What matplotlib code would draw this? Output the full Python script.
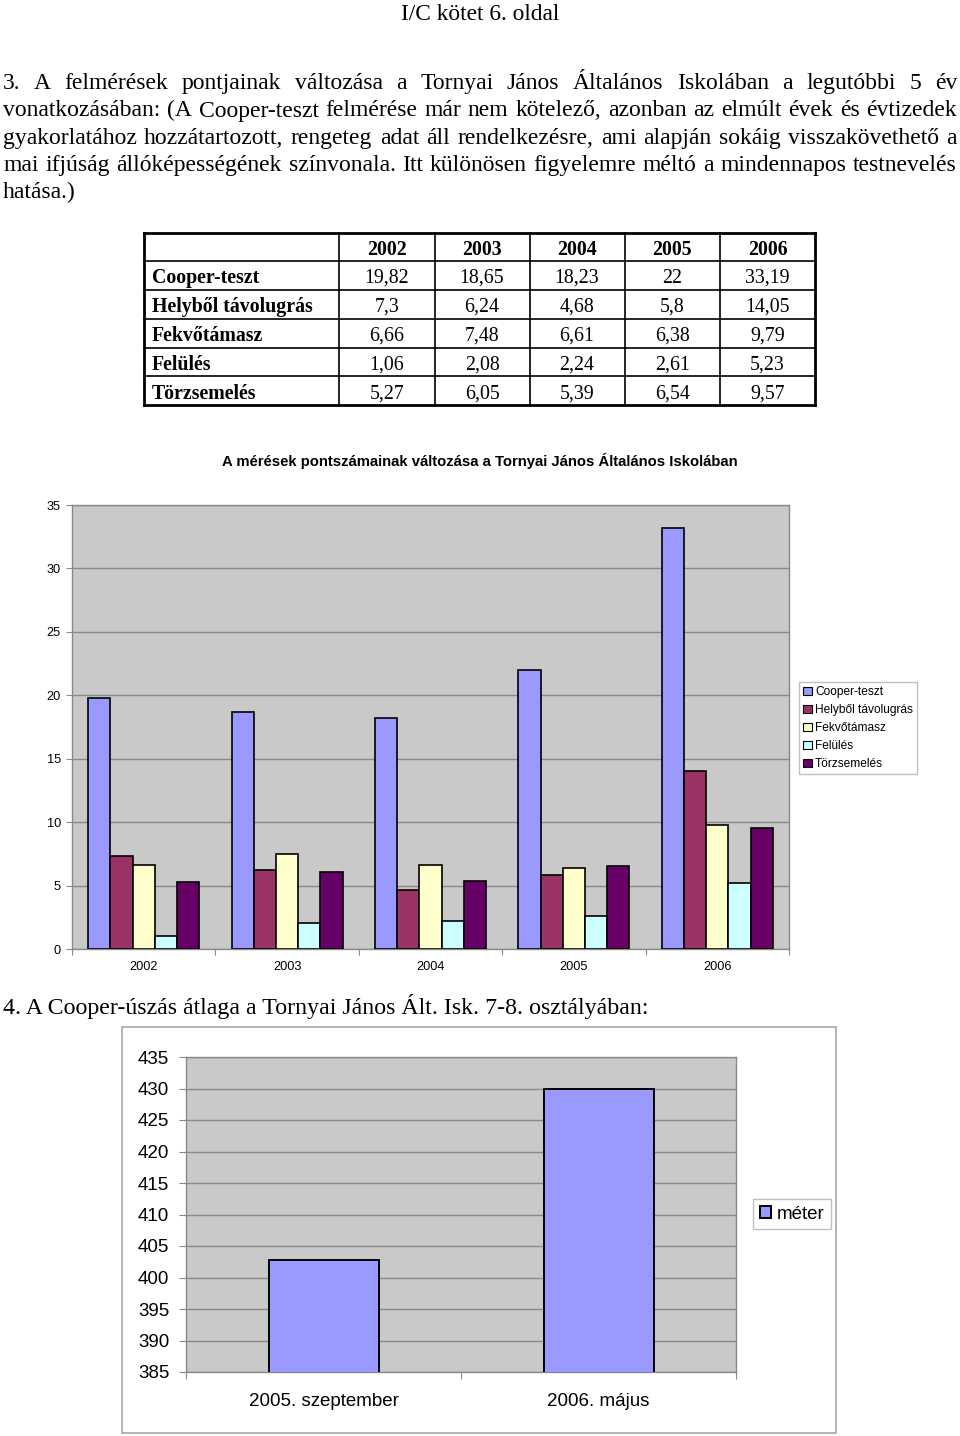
import matplotlib
matplotlib.use("Agg")
import matplotlib.pyplot as plt
from matplotlib.font_manager import FontProperties
from matplotlib.patches import Rectangle
from matplotlib.lines import Line2D
import numpy as np

# ---------------- data ----------------
years = ["2002", "2003", "2004", "2005", "2006"]
series_names = ["Cooper-teszt", "Helyből távolugrás", "Fekvőtámasz", "Felülés", "Törzsemelés"]
cooper = [19.82, 18.65, 18.23, 22, 33.19]
tavolugras = [7.3, 6.24, 4.68, 5.8, 14.05]
fekvotamasz = [6.66, 7.48, 6.61, 6.38, 9.79]
felules = [1.06, 2.08, 2.24, 2.61, 5.23]
torzsemeles = [5.27, 6.05, 5.39, 6.54, 9.57]
series_colors = ["#9999FF", "#993366", "#FFFFCC", "#CCFFFF", "#660066"]

swim_labels = ["2005. szeptember", "2006. május"]
swim_values = [402.7, 430]
swim_legend = "méter"

chart1_title = "A mérések pontszámainak változása a Tornyai János Általános Iskolában"
header = "I/C kötet 6. oldal"
para_lines = [
    "3. A felmérések pontjainak változása a Tornyai János Általános Iskolában a legutóbbi 5 év",
    "vonatkozásában: (A Cooper-teszt felmérése már nem kötelező, azonban az elmúlt évek és évtizedek",
    "gyakorlatához hozzátartozott, rengeteg adat áll rendelkezésre, ami alapján sokáig visszakövethető a",
    "mai ifjúság állóképességének színvonala. Itt különösen figyelemre méltó a mindennapos testnevelés",
    "hatása.)",
]
heading4 = "4. A Cooper-úszás átlaga a Tornyai János Ált. Isk. 7-8. osztályában:"

def fmt(v):
    return ("%g" % v).replace(".", ",")

W, H = 960, 1436
fig = plt.figure(figsize=(W / 100, H / 100), dpi=100)
fig.patch.set_facecolor("white")

def fx(px):
    return px / W

def fy(py):
    return 1 - py / H

SERIF = "Liberation Serif"
SANS = "Liberation Sans"

# ---------------- header & paragraph ----------------
fig.text(fx(480), fy(20), header, family=SERIF, fontsize=16.8, ha="center", va="baseline")

renderer = fig.canvas.get_renderer()
body_size = 17.0
prop = FontProperties(family=SERIF, size=body_size)
baselines = [89, 116.5, 143.8, 171, 198.3]
x_left, x_right = 3, 957
for i, line in enumerate(para_lines):
    words = line.split(" ")
    if i == len(para_lines) - 1:
        fig.text(fx(x_left), fy(baselines[i]), line, family=SERIF, fontsize=body_size,
                 ha="left", va="baseline")
        continue
    widths = [renderer.get_text_width_height_descent(w, prop, ismath=False)[0] for w in words]
    gap = (x_right - x_left - sum(widths)) / (len(words) - 1)
    x = x_left
    for w, wd in zip(words, widths):
        fig.text(fx(x), fy(baselines[i]), w, family=SERIF, fontsize=body_size,
                 ha="left", va="baseline")
        x += wd + gap

# ---------------- table ----------------
col_x = [144, 339, 434.5, 529.5, 624.5, 720, 815]
row_y = [232.5, 261, 290, 318.8, 347.5, 376.2, 405]
for xx in col_x:
    lw = 2.0 if xx in (col_x[0], col_x[-1]) else 1.2
    fig.add_artist(Line2D([fx(xx), fx(xx)], [fy(row_y[0]), fy(row_y[-1])], color="black",
                          lw=lw, transform=fig.transFigure))
for yy in row_y:
    lw = 2.0 if yy in (row_y[0], row_y[-1]) else 1.2
    fig.add_artist(Line2D([fx(col_x[0]), fx(col_x[-1])], [fy(yy), fy(yy)], color="black",
                          lw=lw, transform=fig.transFigure))
tsize = 14.3
dy = 3
for j, yr in enumerate(years):
    cx = (col_x[j + 1] + col_x[j + 2]) / 2
    cy = (row_y[0] + row_y[1]) / 2 + dy
    fig.text(fx(cx), fy(cy), yr, family=SERIF, fontsize=tsize, weight="bold",
             ha="center", va="center")
table_data = [cooper, tavolugras, fekvotamasz, felules, torzsemeles]
for i, name in enumerate(series_names):
    cy = (row_y[i + 1] + row_y[i + 2]) / 2 + dy
    fig.text(fx(col_x[0] + 8), fy(cy), name, family=SERIF, fontsize=tsize, weight="bold",
             ha="left", va="center")
    for j, v in enumerate(table_data[i]):
        cx = (col_x[j + 1] + col_x[j + 2]) / 2
        fig.text(fx(cx), fy(cy), fmt(v), family=SERIF, fontsize=tsize,
                 ha="center", va="center")

# ---------------- chart 1 ----------------
fig.text(fx(480), fy(461), chart1_title, family=SANS, fontsize=10.7, weight="bold",
         ha="center", va="center")

PLOT_BG = "#C9C9C9"
GRID = "#8a8a8a"

ax1 = fig.add_axes([fx(72), fy(949), fx(789 - 72), (949 - 505) / H])
ax1.set_facecolor(PLOT_BG)
n = len(years)
x = np.arange(n)
bw = 0.155
for k, (vals, col, name) in enumerate(zip(table_data, series_colors, series_names)):
    ax1.bar(x + (k - 2) * bw, vals, width=bw, color=col, edgecolor="black", linewidth=1.2,
            label=name, zorder=3)
ax1.set_xlim(-0.5, n - 0.5)
ax1.set_ylim(0, 35)
ax1.set_yticks(np.arange(0, 36, 5))
ax1.yaxis.grid(True, color=GRID, linewidth=1.0, zorder=0)
ax1.set_axisbelow(True)
ax1.set_xticks(np.arange(-0.5, n, 1.0))
ax1.set_xticklabels([])
ax1.set_xticks(x, minor=True)
ax1.set_xticklabels(years, minor=True, family=SANS, fontsize=9.2)
ax1.tick_params(axis="x", which="minor", length=0, pad=9)
ax1.tick_params(axis="x", which="major", length=4, color=GRID, direction="out")
ax1.tick_params(axis="y", length=4, color=GRID, labelsize=9.2, pad=4)
for lbl in ax1.get_yticklabels():
    lbl.set_family(SANS)
for s in ax1.spines.values():
    s.set_color(GRID)
    s.set_linewidth(1.0)
leg1 = ax1.legend(loc="upper left", bbox_to_anchor=(fx(799), fy(682)), bbox_transform=fig.transFigure,
                  prop=FontProperties(family=SANS, size=8.6), frameon=True, fancybox=False,
                  handlelength=0.75, handleheight=0.75, handletextpad=0.25, borderpad=0.35,
                  labelspacing=0.5, borderaxespad=0)
leg1.get_frame().set_edgecolor("#b0b0b0")
leg1.get_frame().set_linewidth(1.0)
for h in leg1.legend_handles:
    h.set_linewidth(0.8)

# ---------------- heading 4 ----------------
fig.text(fx(3), fy(1014), heading4, family=SERIF, fontsize=17.2, ha="left", va="baseline")

# ---------------- chart 2 ----------------
fig.add_artist(Rectangle((fx(122), fy(1433)), fx(836 - 122), (1433 - 1027) / H,
                         transform=fig.transFigure, facecolor="white", edgecolor="#a8a8a8",
                         linewidth=1.2, zorder=0))
ax2 = fig.add_axes([fx(186), fy(1372), fx(736 - 186), (1372 - 1057) / H])
ax2.set_facecolor(PLOT_BG)
x2 = np.arange(len(swim_values))
ax2.bar(x2, swim_values, width=0.4, color="#9999FF", edgecolor="black", linewidth=1.4,
        label=swim_legend, zorder=3)
ax2.set_xlim(-0.5, len(swim_values) - 0.5)
ax2.set_ylim(385, 435)
ax2.set_yticks(np.arange(385, 436, 5))
ax2.yaxis.grid(True, color=GRID, linewidth=1.0, zorder=0)
ax2.set_axisbelow(True)
ax2.set_xticks(np.arange(-0.5, len(swim_values), 1.0))
ax2.set_xticklabels([])
ax2.set_xticks(x2, minor=True)
ax2.set_xticklabels(swim_labels, minor=True, family=SANS, fontsize=13.5)
ax2.tick_params(axis="x", which="minor", length=0, pad=15)
ax2.tick_params(axis="x", which="major", length=5, color=GRID, direction="out")
ax2.tick_params(axis="y", length=5, color=GRID, labelsize=13.5, pad=7)
for lbl in ax2.get_yticklabels():
    lbl.set_family(SANS)
for s in ax2.spines.values():
    s.set_color(GRID)
    s.set_linewidth(1.0)
leg2 = ax2.legend(loc="upper left", bbox_to_anchor=(fx(753), fy(1199)), bbox_transform=fig.transFigure,
                  prop=FontProperties(family=SANS, size=13.5), frameon=True, fancybox=False,
                  handlelength=0.6, handleheight=0.6, handletextpad=0.3, borderpad=0.35,
                  borderaxespad=0)
leg2.get_frame().set_edgecolor("#b0b0b0")
leg2.get_frame().set_linewidth(1.0)

fig.savefig("out.png", dpi=100, facecolor="white")
